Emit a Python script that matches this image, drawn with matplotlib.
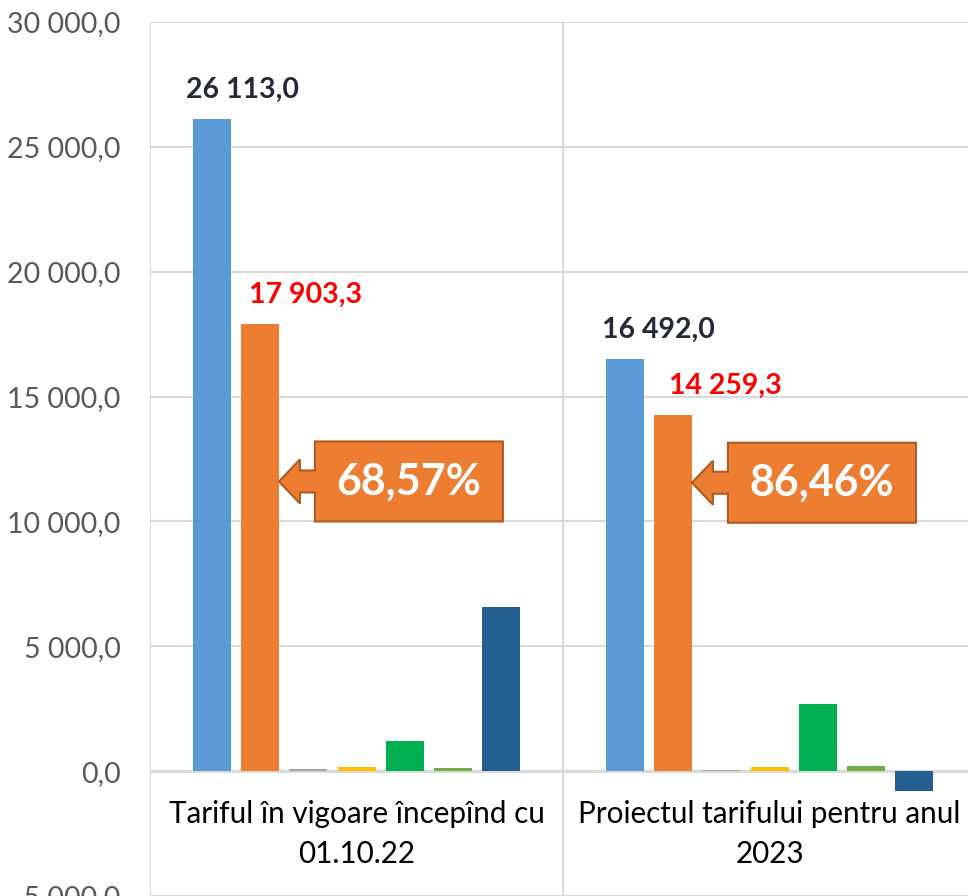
import matplotlib
matplotlib.use("Agg")
import matplotlib.pyplot as plt
import numpy as np
from matplotlib.patches import Polygon
from matplotlib.transforms import Affine2D, ScaledTranslation

# data
categories = ["Tariful în vigoare începînd cu\n01.10.22",
              "Proiectul tarifului pentru anul\n2023"]
series_colors = ["#5B9BD5", "#ED7D31", "#A5A5A5", "#FFC000", "#00B050", "#70AD47", "#255E91"]
values_2022 = [26113.0, 17903.3, 80, 150, 1200, 120, 6560]
values_2023 = [16492.0, 14259.3, 50, 150, 2670, 190, -800]
shares = ["68,57%", "86,46%"]
callout_level = [11600, 11550]

plt.rcParams['font.family'] = ['Lato', 'DejaVu Sans']

fig = plt.figure(figsize=(9.68, 8.96), dpi=100)
# plot area is cropped on the right, so the axes runs past the figure edge
ax = fig.add_axes([150/968, 0.0, 826/968, (896-22)/896])
ax.set_xlim(0, 2)
ax.set_ylim(-5000, 30000)

pitch = 48.3/413
width = 38/413
offsets = (np.arange(7) - 3) * pitch
data = np.array([values_2022, values_2023])

for g in range(2):
    ax.bar(g + 0.5 + offsets, data[g], width=width, color=series_colors,
           linewidth=0, zorder=3)

# gridlines
ax.set_yticks(np.arange(-5000, 30001, 5000))
ax.yaxis.grid(True, color="#d9d9d9", linewidth=1.5, zorder=0)
for xv in [0, 1, 2]:
    ax.axvline(xv, color="#d9d9d9", linewidth=1.5, zorder=1)
ax.axhline(0, color="#d9d9d9", linewidth=2, zorder=2)

for s in ax.spines.values():
    s.set_visible(False)

ax.set_xticks([])
ax.tick_params(axis="y", length=0, pad=21, labelsize=20.5, labelcolor="#595959")


def fmt(v):
    s = f"{abs(v):,.1f}".replace(",", " ").replace(".", ",")
    return ("-" if v < 0 else "") + s


ax.set_yticklabels([fmt(v) for v in ax.get_yticks()])

# category labels sit inside the plot area, just under the zero line
for g in range(2):
    ax.annotate(categories[g], (g + 0.5, 0), xytext=(0, -63 * 0.72),
                textcoords="offset points", ha="center", va="center",
                fontsize=21.3, color="#000000", linespacing=1.5)

# data labels for the first two series
label_colors = ["#222A35", "#FF0000"]
label_shift = [[31, 46], [34, 52]]
for g in range(2):
    for k in range(2):
        ax.annotate(fmt(data[g][k]), (g + 0.5 + offsets[k], data[g][k]),
                    xytext=(label_shift[g][k] * 0.72, 29 * 0.72), textcoords="offset points",
                    ha="center", va="center", fontsize=20.5, fontweight="bold",
                    color=label_colors[k], zorder=6)

# arrow callouts pointing at the orange bars (shape in pixels around the tip)
shape = [(0, 0), (21, 22), (21, 11), (36, 11), (36, 40), (224, 40), (224, -40),
         (36, -40), (36, -11), (21, -11), (21, -22)]
for g in range(2):
    tip_x = g + 0.5 + offsets[1] + width / 2
    tr = Affine2D() + ScaledTranslation(tip_x, callout_level[g], ax.transData)
    poly = Polygon(shape, closed=True, facecolor="#ED7D31", edgecolor="#AE5A21",
                   linewidth=1.5, transform=tr, zorder=7)
    ax.add_patch(poly)
    ax.text(130, 0, shares[g], transform=tr, ha="center", va="center",
            fontsize=31, fontweight="bold", color="white", zorder=8)

fig.savefig("out.png", dpi=100)
